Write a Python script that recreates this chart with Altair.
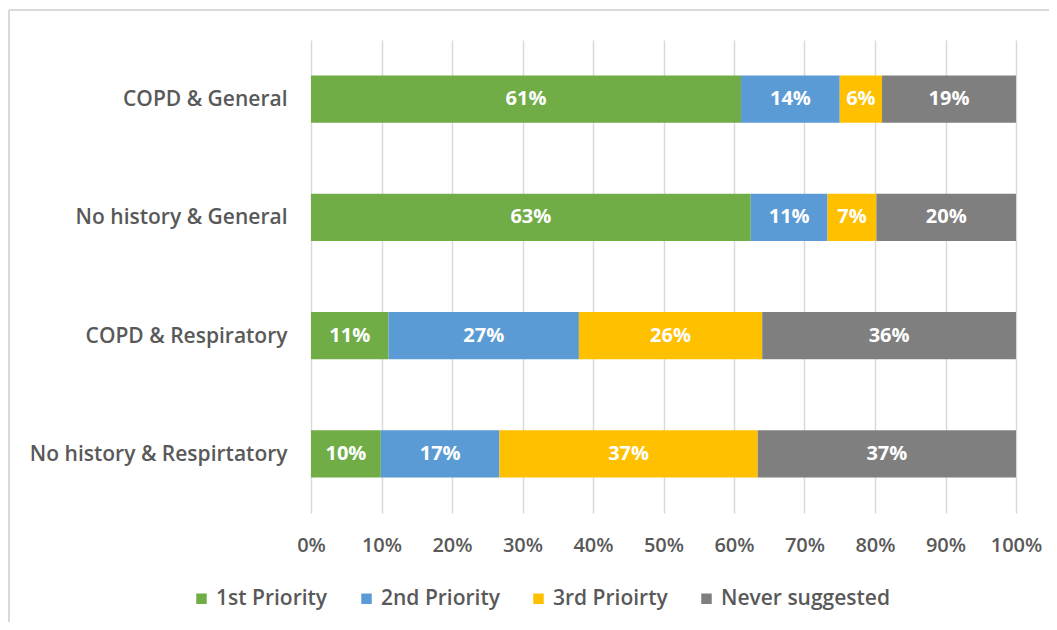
import altair as alt
import pandas as pd

categories = ["COPD & General", "No history & General", "COPD & Respiratory", "No history & Respirtatory"]
series = ["1st Priority", "2nd Priority", "3rd Prioirty", "Never suggested"]
first = [61, 63, 11, 10]
second = [14, 11, 27, 17]
third = [6, 7, 26, 37]
never = [19, 20, 36, 37]
colors = ["#70AD47", "#5B9BD5", "#FFC000", "#7F7F7F"]
x_ticks = [0, 0.1, 0.2, 0.3, 0.4, 0.5, 0.6, 0.7, 0.8, 0.9, 1.0]

rows = []
for i, cat in enumerate(categories):
    for r, (s, vals) in enumerate(zip(series, [first, second, third, never])):
        rows.append({"category": cat, "series": s, "rank": r, "value": vals[i],
                     "label": f"{vals[i]}%"})
df = pd.DataFrame(rows)

FONT = "Open Sans"
TXT = "#595959"
FS = 21

base = alt.Chart(df).transform_stack(
    stack="value", groupby=["category"], as_=["v0", "v1"], offset="normalize",
    sort=[alt.SortField("rank", order="ascending")]
).transform_calculate(mid="(datum.v0 + datum.v1) / 2")

bars = base.mark_bar().encode(
    y=alt.Y("category:N", sort=categories, title=None,
            scale=alt.Scale(paddingInner=0.6, paddingOuter=0.3),
            axis=alt.Axis(domain=False, ticks=False, labelPadding=24, labelFontSize=FS,
                          labelLimit=0, labelColor=TXT, labelFont=FONT,
                          labelFontWeight=600, grid=False, labelOffset=1)),
    x=alt.X("v0:Q", title=None, scale=alt.Scale(domain=[0, 1]),
            axis=alt.Axis(values=x_ticks, format=".0%", grid=True, gridColor="#d9d9d9",
                          gridWidth=1.5, domain=False, ticks=False, labelPadding=22,
                          labelFlush=False, labelFontSize=FS - 1, labelColor=TXT,
                          labelFont=FONT, labelFontWeight=600)),
    x2="v1:Q",
    color=alt.Color("series:N", sort=series, title=None,
                    scale=alt.Scale(domain=series, range=colors),
                    legend=alt.Legend(orient="none", legendX=-120, legendY=548,
                                      direction="horizontal", symbolType="square",
                                      symbolSize=110, symbolStrokeWidth=0,
                                      labelFontSize=FS, labelColor=TXT, labelFont=FONT,
                                      labelFontWeight=600, columnPadding=28,
                                      labelLimit=0)),
)

texts = base.mark_text(color="white", fontSize=20, fontWeight="bold", font=FONT).encode(
    y=alt.Y("category:N", sort=categories),
    x=alt.X("mid:Q"),
    text="label:N",
)

border_top = alt.Chart(pd.DataFrame({"a": [0]})).mark_rule(
    color="#d9d9d9", strokeWidth=2, clip=False
).encode(x=alt.value(-302), x2=alt.value(900), y=alt.value(-30))
border_left = alt.Chart(pd.DataFrame({"a": [0]})).mark_rule(
    color="#d9d9d9", strokeWidth=2, clip=False
).encode(x=alt.value(-302), y=alt.value(-30), y2=alt.value(800))

chart = alt.layer(bars, texts, border_top, border_left).properties(
    width=705, height=473,
    autosize=alt.AutoSizeParams(type="none"),
    padding={"left": 303, "top": 32, "right": 33, "bottom": 109},
    background="white",
).configure_view(stroke=None)

chart.save("out.html", embed_options={"renderer": "svg", "actions": False})
